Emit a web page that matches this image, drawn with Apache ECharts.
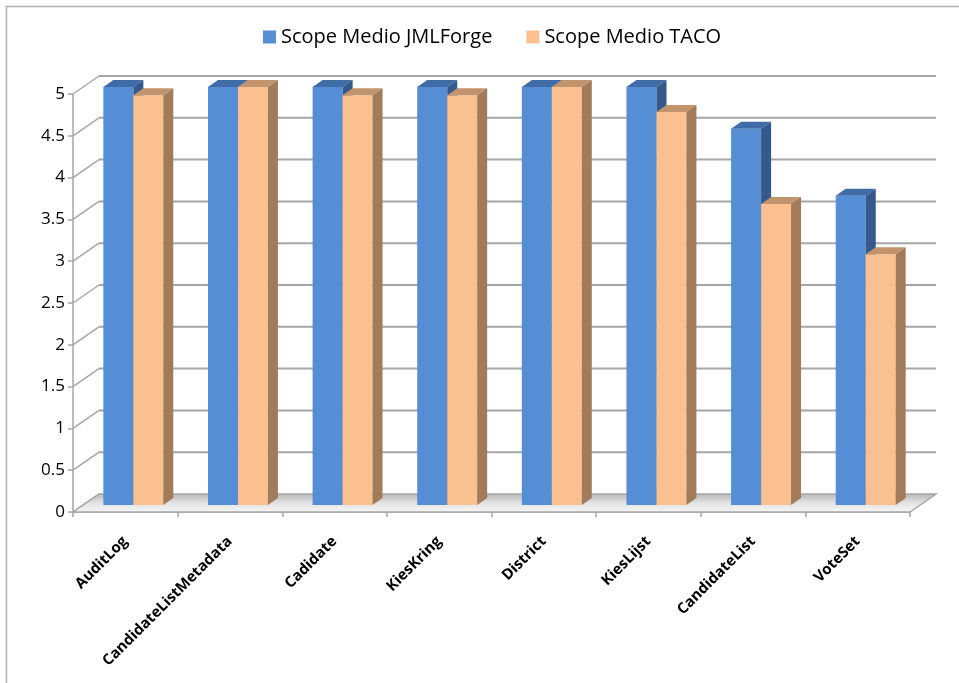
<!DOCTYPE html>
<html><head><meta charset="utf-8">
<script src="https://cdn.jsdelivr.net/npm/echarts@6/dist/echarts.min.js"></script>
<style>html,body{margin:0;padding:0;background:#fff}#c{width:959px;height:683px}</style>
</head><body><div id="c"></div>
<script>
const categories = ['AuditLog','CandidateListMetadata','Cadidate','KiesKring','District','KiesLijst','CandidateList','VoteSet'];
const jmlforge = [5, 5, 5, 5, 5, 5, 4.5, 3.7];
const taco = [4.9, 5, 4.9, 4.9, 5, 4.7, 3.6, 3.0];
const yTicks = [0, 0.5, 1, 1.5, 2, 2.5, 3, 3.5, 4, 4.5, 5];
const seriesNames = ['Scope Medio JMLForge', 'Scope Medio TACO'];

const DX = 26, DY = -18;      // wall depth offset
const BDX = 10, BDY = -7;     // bar depth offset
const BAR_OFF_Y = -7;         // bars sit a bit behind the front plane
const GRID_COL = '#a6a6a6';

function barRender(front, top, side, f0, f1) {
  return function (params, api) {
    const idx = api.value(0), v = api.value(1);
    const c = api.coord([idx, v]);
    const c0 = api.coord([idx, 0]);
    const bw = api.size([1, 0])[0];
    const xl = c[0] + f0 * bw, xr = c[0] + f1 * bw;
    const yt = c[1] + BAR_OFF_Y, yb = c0[1] + BAR_OFF_Y;
    return {
      type: 'group', children: [
        { type: 'rect', shape: { x: xl, y: yt, width: xr - xl, height: yb - yt }, style: { fill: front } },
        { type: 'polygon', shape: { points: [[xl, yt], [xr, yt], [xr + BDX, yt + BDY], [xl + BDX, yt + BDY]] }, style: { fill: top } },
        { type: 'polygon', shape: { points: [[xr, yt], [xr + BDX, yt + BDY], [xr + BDX, yb + BDY], [xr, yb]] }, style: { fill: side } }
      ]
    };
  };
}

const chart = echarts.init(document.getElementById('c'), null, { renderer: 'canvas' });
chart.setOption({
  animation: false,
  backgroundColor: '#fff',
  graphic: [{
    type: 'rect', z: 100, silent: true,
    shape: { x: 6.5, y: 6.5, width: 1200, height: 1200 },
    style: { fill: null, stroke: '#b0b0b0', lineWidth: 1.5 }
  }],
  legend: {
    left: 258, top: 22,
    itemWidth: 13, itemHeight: 13, itemGap: 34,
    icon: 'rect',
    data: seriesNames,
    textStyle: { fontFamily: 'Open Sans', fontSize: 20, color: '#000' }
  },
  grid: { left: 73, right: 49, top: 94, bottom: 171 },
  xAxis: {
    type: 'category', data: categories,
    axisLine: { lineStyle: { color: GRID_COL, width: 1.5 } },
    axisTick: { show: true, length: 5, lineStyle: { color: GRID_COL, width: 1.5 } },
    axisLabel: {
      rotate: 45, margin: 27, interval: 0,
      fontFamily: 'Open Sans', fontWeight: 'bold', fontSize: 15, color: '#000'
    },
    splitLine: { show: false }
  },
  yAxis: {
    type: 'value', min: 0, max: 5, interval: 0.5,
    axisLine: { show: true, lineStyle: { color: GRID_COL, width: 1.5 } },
    axisTick: { show: true, length: 5, lineStyle: { color: GRID_COL, width: 1.5 } },
    axisLabel: { margin: 8, fontFamily: 'Open Sans', fontSize: 17, color: '#000' },
    splitLine: { show: false }
  },
  series: [
    {
      type: 'custom', name: 'wall', z: 1, silent: true,
      data: yTicks.map(v => [0, v]),
      encode: { x: 0, y: 1 },
      renderItem: function (params, api) {
        const cs = params.coordSys;
        const v = api.value(1);
        const y = api.coord([0, v])[1];
        const L = cs.x, R = cs.x + cs.width;
        const ch = [{ type: 'line', shape: { x1: L, y1: y, x2: L + DX, y2: y + DY }, style: { stroke: GRID_COL, lineWidth: 1.5 } }];
        if (v > 0) ch.push({ type: 'line', shape: { x1: L + DX, y1: y + DY, x2: R + DX, y2: y + DY }, style: { stroke: GRID_COL, lineWidth: 2 } });
        return { type: 'group', children: ch };
      }
    },
    {
      type: 'custom', name: 'floor', z: 2, silent: true,
      data: [[0, 0]],
      encode: { x: 0, y: 1 },
      renderItem: function (params, api) {
        const cs = params.coordSys;
        const y = api.coord([0, 0])[1];
        const L = cs.x, R = cs.x + cs.width;
        return {
          type: 'polygon',
          shape: { points: [[L, y], [R, y], [R + DX, y + DY], [L + DX, y + DY]] },
          style: {
            fill: new echarts.graphic.LinearGradient(0, 0, 0, 1, [
              { offset: 0, color: '#b5b5b5' }, { offset: 0.5, color: '#e3e3e3' }, { offset: 1, color: '#f7f7f7' }
            ]),
            stroke: GRID_COL, lineWidth: 1.5
          }
        };
      }
    },
    {
      type: 'custom', name: seriesNames[0], z: 3,
      itemStyle: { color: '#558ED5' },
      data: jmlforge.map((v, i) => [i, v]),
      encode: { x: 0, y: 1 },
      renderItem: barRender('#558ED5', '#3F6CA6', '#35598A', -0.21, 0.077)
    },
    {
      type: 'custom', name: seriesNames[1], z: 4,
      itemStyle: { color: '#FAC090' },
      data: taco.map((v, i) => [i, v]),
      encode: { x: 0, y: 1 },
      renderItem: barRender('#FAC090', '#C1946E', '#A27B5A', 0.077, 0.363)
    }
  ]
});
</script></body></html>
